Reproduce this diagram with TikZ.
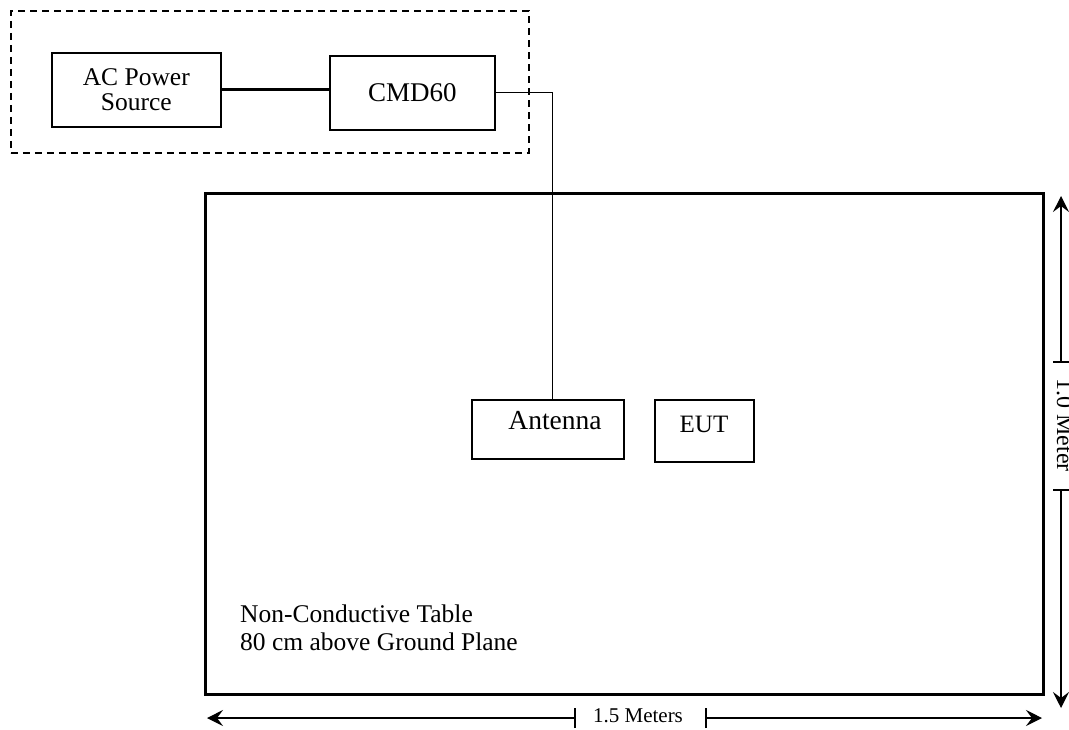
\documentclass[tikz,border=0pt]{standalone}
\usepackage{fontspec}
\setmainfont{Liberation Serif}
\usetikzlibrary{arrows.meta}
\begin{document}
\begin{tikzpicture}[x=1pt,y=-1pt,
  box/.style={draw, line width=1.6pt, anchor=north west, inner sep=0pt, align=center},
  dimarrow/.style={line width=1.2pt, -{Stealth[length=16pt,width=16pt,inset=6pt]}},
  dimtick/.style={line width=1.2pt},
  lbl/.style={inner sep=0pt}]
\useasboundingbox (0,0) rectangle (1069,729);
% test set-up group
\node[box, dash pattern=on 7pt off 5pt, minimum width=518pt, minimum height=142pt] (group) at (10,10) {};
\node[box, minimum width=169pt, minimum height=74pt, font=\fontsize{25.5}{25.5}\selectfont] (ac) at (51,52) {AC Power\\Source};
\node[box, minimum width=165pt, minimum height=74pt, font=\fontsize{27}{28}\selectfont] (cmd) at (329,55) {CMD60};
% table
\node[box, line width=3pt, minimum width=838pt, minimum height=501pt] (table) at (204,192) {};
\node[box, minimum width=152pt, minimum height=59pt] (ant) at (471,399) {};
\node[lbl, font=\fontsize{27.5}{30}\selectfont] (anttext) at (555,421) {Antenna};
\node[box, minimum width=99pt, minimum height=62pt] (eut) at (654,399) {};
\node[lbl, font=\fontsize{25}{28}\selectfont] (euttext) at (704,424) {EUT};
\node[lbl, anchor=north west, align=left, font=\fontsize{25.5}{28}\selectfont] (tabletext) at (240,605) {Non-Conductive Table\\80 cm above Ground Plane};
% connectors
\draw[line width=3pt] (ac.east) -- (ac.east -| cmd.west);
\draw[line width=1.3pt] (cmd.east) -| ([xshift=5pt]ant.north);
% horizontal dimension
\coordinate (hl) at (207,718);
\coordinate (hr) at (1042,718);
\coordinate (hg1) at (575,718);
\coordinate (hg2) at (706,718);
\draw[dimarrow] (hg1) -- (hl);
\draw[dimarrow] (hg2) -- (hr);
\draw[dimtick] ([yshift=-10pt]hg1) -- ([yshift=10pt]hg1);
\draw[dimtick] ([yshift=-10pt]hg2) -- ([yshift=10pt]hg2);
\node[lbl, font=\fontsize{21}{24}\selectfont] (hlabel) at (638,716) {1.5 Meters};
% vertical dimension
\coordinate (vt) at (1061,196);
\coordinate (vb) at (1061,708);
\coordinate (vg1) at (1061,362);
\coordinate (vg2) at (1061,490);
\draw[dimarrow] (vg1) -- (vt);
\draw[dimarrow] (vg2) -- (vb);
\draw[dimtick] ([xshift=-8pt]vg1) -- ([xshift=8pt]vg1);
\draw[dimtick] ([xshift=-8pt]vg2) -- ([xshift=8pt]vg2);
\node[lbl, rotate=-90, font=\fontsize{24}{26}\selectfont] (vlabel) at (1065,425) {1.0 Meter};
\end{tikzpicture}
\end{document}
